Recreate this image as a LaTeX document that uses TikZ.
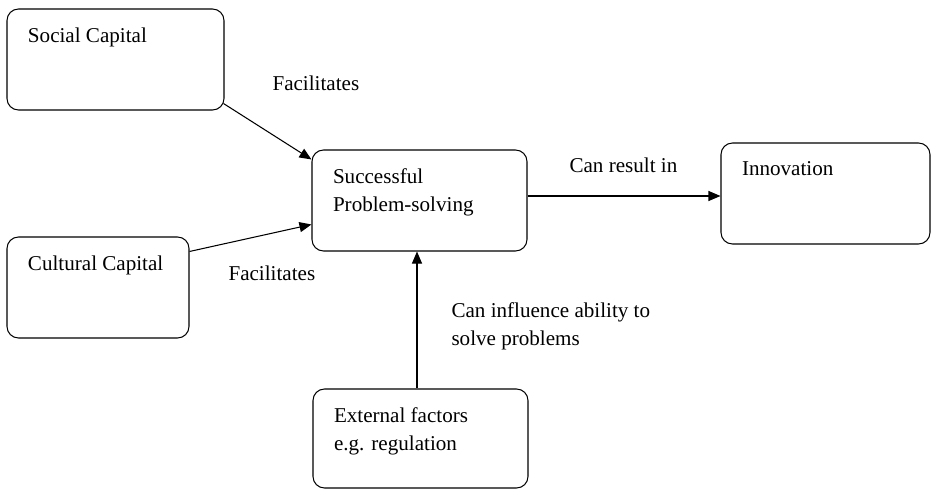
\documentclass[tikz,border=0pt]{standalone}
\usepackage{fontspec}
\setmainfont{Liberation Serif}
\usetikzlibrary{positioning,calc,arrows.meta}

\begin{document}
\begin{tikzpicture}[->,>={Triangle[length=2.4mm,width=2mm]}, semithick, font=\fontsize{12}{16}\selectfont]
		\tikzstyle{box}=[draw=black, rounded corners=2.3mm, inner sep=0pt, minimum height=2.02cm]
		\tikzstyle{boxtext}=[anchor=north west, align=left, inner sep=0pt, xshift=4.2mm, yshift=-3.8mm]
		\tikzstyle{lbl}=[anchor=west, inner sep=0pt]
		
		\useasboundingbox (0,0) rectangle (18.64,9.8);
		
		\node [box, minimum width=4.34cm] (social) at (2.31,8.61) {};
		\node [boxtext] (socialtxt) at (social.north west) {Social Capital};
		
		\node [box, minimum width=3.64cm] (cultural) at (1.96,4.05) {};
		\node [boxtext] (culturaltxt) at (cultural.north west) {Cultural Capital};
		
		\node [box, minimum width=4.3cm] (succ) at (8.39,5.79) {};
		\node [boxtext] (succtxt) at (succ.north west) {Successful\\Problem-solving};
		
		\node [box, minimum width=4.18cm] (innov) at ($(succ)+(8.12,0.14)$) {};
		\node [boxtext] (innovtxt) at (innov.north west) {Innovation};
		
		\node [box, minimum width=4.3cm, minimum height=1.98cm] (ext) at ($(succ)+(0.02,-4.76)$) {};
		\node [boxtext] (exttxt) at (ext.north west) {External factors\\e.g. regulation};
		
		\node [lbl] (fac1) at (5.44,8.14) {Facilitates};
		\node [lbl] (fac2) at (4.56,4.34) {Facilitates};
		\node [lbl] (result) at (11.38,6.5) {Can result in};
		\node [lbl, anchor=north west, align=left] (influence) at (9.02,3.76) {Can influence ability to\\solve problems};
		
		\coordinate (s1) at ($(social.south east)+(-0.02,0.14)$);
		\coordinate (c1) at ($(cultural.north east)+(0,-0.3)$);
		\coordinate (p1) at ($(succ.east)+(0,0.09)$);
		\coordinate (e1) at ($(ext.north)+(-0.07,0)$);
		
		\draw [->] (s1) to ($(succ.north west)+(0,-0.2)$); \draw [->] (c1) to ($(succ.north west)+(0,-1.5)$);
		\draw [->] (p1) to (p1 -| innov.west); \draw [->] (e1) to (e1 |- succ.south);
	\end{tikzpicture}
\end{document}
